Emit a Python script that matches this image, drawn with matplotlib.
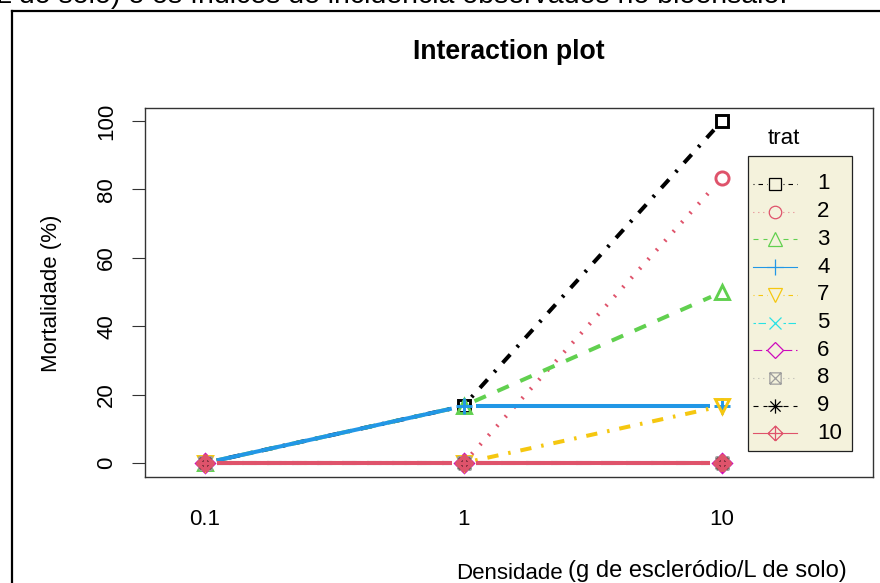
import matplotlib
matplotlib.use("Agg")
import matplotlib.pyplot as plt
import numpy as np
from matplotlib.path import Path
from matplotlib.lines import Line2D
from matplotlib.patches import Rectangle

plt.rcParams['font.family'] = ['Liberation Sans', 'DejaVu Sans']
plt.rcParams['lines.scale_dashes'] = False

# ---- data -------------------------------------------------------------
densidade = ["0.1", "1", "10"]
trat_levels = ["1", "2", "3", "4", "5", "6", "7", "8", "9", "10"]
legend_order = ["1", "2", "3", "4", "7", "5", "6", "8", "9", "10"]

mort_t1 = [0, 16.67, 100]
mort_t2 = [0, 0, 83.33]
mort_t3 = [0, 16.67, 50]
mort_t4 = [0, 16.67, 16.67]
mort_t5 = [0, 0, 0]
mort_t6 = [0, 0, 0]
mort_t7 = [0, 0, 16.67]
mort_t8 = [0, 0, 0]
mort_t9 = [0, 0, 0]
mort_t10 = [0, 0, 0]

y_ticks = [0, 20, 40, 60, 80, 100]

mortalidade = {"1": mort_t1, "2": mort_t2, "3": mort_t3, "4": mort_t4,
               "5": mort_t5, "6": mort_t6, "7": mort_t7, "8": mort_t8,
               "9": mort_t9, "10": mort_t10}

# ---- styles -----------------------------------------------------------
W, H = 880, 583


def fx(x):
    return x / W


def fy(y):
    return 1 - y / H


def mk_path(segments):
    verts, codes = [], []
    for seg in segments:
        for i, p in enumerate(seg):
            verts.append(p)
            codes.append(Path.MOVETO if i == 0 else Path.LINETO)
    return Path(verts, codes)


box_x = mk_path([[(-1, -1), (1, -1), (1, 1), (-1, 1), (-1, -1)],
                 [(-1, -1), (1, 1)], [(-1, 1), (1, -1)]])
asterisk = mk_path([[(-1, 0), (1, 0)], [(0, -1), (0, 1)],
                    [(-0.72, -0.72), (0.72, 0.72)], [(-0.72, 0.72), (0.72, -0.72)]])
diamond_plus = mk_path([[(0, -1), (1, 0), (0, 1), (-1, 0), (0, -1)],
                        [(-1, 0), (1, 0)], [(0, -1), (0, 1)]])

# R-style line types (units are line widths)
LTY = {
    "solid": None,
    "dashed": (4, 4),
    "dotted": (0.6, 3.4),
    "dotdash": (0.8, 3.2, 3.6, 3.2),
    "longdash": (7, 3),
    "twodash": (2, 2, 6, 2),
}

style = {
    "1": dict(color="#000000", lty="dotdash", marker="s", ms=1.0),
    "2": dict(color="#DF536B", lty="dotted", marker="o", ms=1.05),
    "3": dict(color="#61D04F", lty="dashed", marker="^", ms=1.15),
    "4": dict(color="#2297E6", lty="solid", marker="+", ms=1.35),
    "5": dict(color="#28E2E5", lty="twodash", marker="x", ms=1.0),
    "6": dict(color="#CD0BBC", lty="longdash", marker="D", ms=1.0),
    "7": dict(color="#F5C710", lty="dotdash", marker="v", ms=1.15),
    "8": dict(color="#9E9E9E", lty="dotted", marker=box_x, ms=0.95),
    "9": dict(color="#000000", lty="dashed", marker=asterisk, ms=1.2),
    "10": dict(color="#DF536B", lty="solid", marker=diamond_plus, ms=1.25),
}


def dashes(lty, unit_pt):
    pat = LTY[lty]
    if pat is None:
        return "-"
    return (0, tuple(v * unit_pt for v in pat))


# ---- figure -----------------------------------------------------------
fig = plt.figure(figsize=(W / 100, H / 100), dpi=100)
ax_left, ax_right, ax_top, ax_bottom = 145, 873, 108, 477
ax = fig.add_axes([fx(ax_left), fy(ax_bottom),
                   (ax_right - ax_left) / W, (ax_bottom - ax_top) / H])

xpos = np.arange(len(densidade))
ax.set_xlim(-0.232, 2.584)
ax.set_ylim(-4.09, 103.8)

for s in ax.spines.values():
    s.set_color("#333333")
    s.set_linewidth(1.0)

ax.set_xticks(xpos, densidade)
ax.tick_params(axis="x", length=0, pad=23, labelsize=16)
ax.set_yticks(y_ticks, [str(v) for v in y_ticks], rotation=90, va="center")
ax.tick_params(axis="y", length=9.4, width=0.8, pad=10.5, labelsize=16,
               color="#333333")

LW = 2.9         # line width in points for the series
UNIT = 0.75 * 3  # one R lty unit at lwd = 3, in points
GAP = 12         # pixels left free around each point (type = "b")
MS = 9.0
MEW = 2.1

inv = ax.transData.inverted()
for i, t in enumerate(trat_levels):
    st = style[t]
    yv = np.asarray(mortalidade[t], dtype=float)
    pts = ax.transData.transform(np.column_stack([xpos, yv]))
    z = 2 + i * 0.1
    for p0, p1 in zip(pts[:-1], pts[1:]):
        d = p1 - p0
        L = np.hypot(*d)
        if L <= 2 * GAP:
            continue
        u = d / L
        seg = inv.transform(np.vstack([p0 + u * GAP, p1 - u * GAP]))
        ax.plot(seg[:, 0], seg[:, 1], color=st["color"], lw=LW,
                linestyle=dashes(st["lty"], UNIT), solid_capstyle="butt",
                dash_capstyle="butt", zorder=z)
    ax.plot(xpos, yv, linestyle="none", marker=st["marker"],
            ms=MS * st["ms"], mew=MEW * (1.25 if t == "10" else 1.0),
            mfc="none", mec=st["color"], zorder=z + 0.05, clip_on=False)

# ---- legend -----------------------------------------------------------
leg_l, leg_r, leg_t, leg_b = 748, 852, 156, 451
fig.add_artist(Rectangle((fx(leg_l), fy(leg_b)), (leg_r - leg_l) / W,
                         (leg_b - leg_t) / H, transform=fig.transFigure,
                         facecolor="#F4F2DC", edgecolor="#222222", lw=0.9,
                         zorder=5))
fig.text(fx(784), fy(139), "trat", ha="center", va="center", fontsize=16,
         zorder=6)
row0, drow = 184, 27.7
h_l, h_m, h_r = 753, 775, 797
for k, t in enumerate(legend_order):
    st = style[t]
    yy = row0 + k * drow
    for a, b in ((h_l, h_m - 8), (h_m + 8, h_r)):
        fig.add_artist(Line2D([fx(a), fx(b)], [fy(yy), fy(yy)],
                              transform=fig.transFigure, color=st["color"],
                              lw=0.8, linestyle=dashes(st["lty"], 0.9),
                              zorder=6))
    fig.add_artist(Line2D([fx(h_m)], [fy(yy)], transform=fig.transFigure,
                          linestyle="none", marker=st["marker"],
                          ms=MS * st["ms"] * 0.95, mew=0.9, mfc="none",
                          mec=st["color"], zorder=7))
    fig.text(fx(817), fy(yy), t, ha="left", va="center", fontsize=16, zorder=7)

# ---- titles and labels ------------------------------------------------
fig.text(fx(509), fy(52), "Interaction plot", ha="center", va="center",
         fontsize=19.2, fontweight="bold")
fig.text(fx(51), fy(293), "Mortalidade (%)", ha="center", va="center",
         rotation=90, fontsize=16)
fig.text(fx(509), fy(579), "Densidade", ha="center", va="baseline",
         fontsize=16)
fig.text(fx(568), fy(577), "(g de escleródio/L de solo)", ha="left",
         va="baseline", fontsize=17)

# caption line running above the frame
fig.text(fx(-4), fy(3), "L do solo) e os índices de incidência observados no bioensaio.",
         ha="left", va="baseline", fontsize=20.5)

# document frame around the chart
fig.add_artist(Line2D([fx(12), fx(W + 5)], [fy(11), fy(11)],
                      transform=fig.transFigure, color="black", lw=1.6))
fig.add_artist(Line2D([fx(12), fx(12)], [fy(11), fy(H + 5)],
                      transform=fig.transFigure, color="black", lw=1.6))

fig.savefig("out.png", dpi=100)
